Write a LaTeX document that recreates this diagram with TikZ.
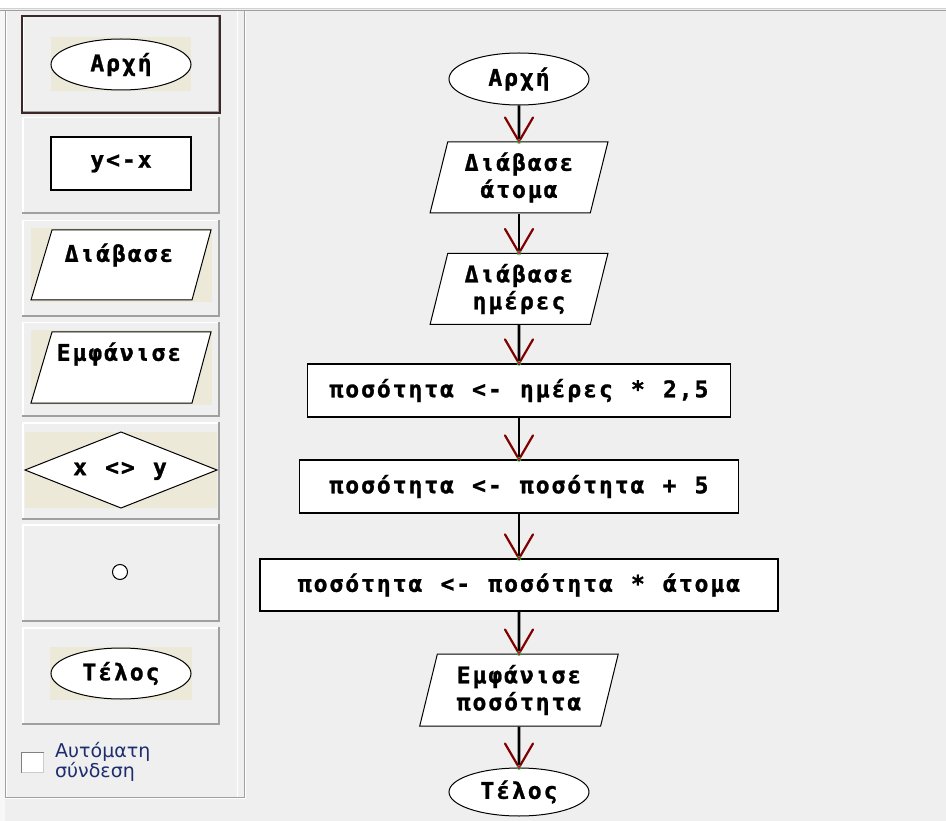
\documentclass[tikz,border=0pt]{standalone}
\usepackage{fontspec}
\usetikzlibrary{shapes.geometric,calc}
\newfontfamily\flowfont[LetterSpace=8.5,WordSpace=1.15,FakeBold=1.2]{DejaVu Sans Mono Bold}
\newfontfamily\uifont{DejaVu Sans}
\definecolor{winbg}{RGB}{239,239,239}
\definecolor{beige}{RGB}{236,233,216}
\definecolor{btnshadow}{RGB}{160,160,160}
\definecolor{selframe}{RGB}{58,40,40}
\definecolor{headred}{RGB}{128,0,0}
\definecolor{uitext}{RGB}{30,45,110}
\definecolor{tipgreen}{RGB}{40,200,40}

% one palette button: top and bottom edge
\newcommand\palettebutton[2]{%
  \fill[winbg] (22,#1) rectangle (220,#2);
  \draw[white, line width=1.5pt] (22.75,#2) -- (22.75,#1+0.75) -- (220,#1+0.75);
  \draw[btnshadow, line width=2pt] (22,#2-1) -- (219,#2-1) -- (219,#1);
}
% connector with the open V head at the target
\newcommand\flowlink[2]{%
  \draw[flow] (#1.south) -- (#2.north);
  \draw[vhead] ($(#2.north)+(-14,-24)$) -- (#2.north) -- ($(#2.north)+(14,-24)$);
  \fill[magenta] (#2.north) circle (1.3);
  \draw[tipgreen, line width=0.6pt] (#2.north) circle (2);
}

\begin{document}
\begin{tikzpicture}[x=1pt,y=-1pt,
  every node/.style={font=\flowfont\fontsize{23}{27}\selectfont, inner sep=0pt},
  term/.style={ellipse, draw, fill=white, line width=1pt, minimum width=140, minimum height=52},
  proc/.style={rectangle, draw, fill=white, line width=1.2pt, minimum height=53},
  io/.style={trapezium, trapezium left angle=75, trapezium right angle=105,
    trapezium stretches=true, draw, fill=white, line width=1pt,
    minimum width=178, minimum height=71, align=center},
  flow/.style={line width=2.6pt},
  vhead/.style={headred, line width=2.2pt, line join=round, line cap=round},
]
\useasboundingbox (0,0) rectangle (946,821);

% window background
\fill[winbg] (0,0) rectangle (946,821);
\fill[white] (0,0) rectangle (946,8);
\draw[black!18] (0,8.5) -- (946,8.5);
\draw[btnshadow, line width=1.5pt] (0,10.5) -- (946,10.5);
\fill[black!3] (0,11) rectangle (5,821);

% palette frame
\draw[btnshadow] (5.5,11) -- (5.5,797.5) -- (244.5,797.5) -- (244.5,11);
\draw[white] (6.5,11) -- (6.5,796.5);
\draw[white] (5,798.5) -- (245.5,798.5) -- (245.5,11);
\draw[white] (237.5,11) -- (237.5,797);

% palette buttons
\palettebutton{16}{113}
\palettebutton{117}{214}
\palettebutton{220}{317}
\palettebutton{322}{417}
\palettebutton{422}{520}
\palettebutton{524}{622}
\palettebutton{627}{725}
\draw[selframe, line width=2pt] (22,16) rectangle (220,113);

% start symbol
\fill[beige] (51,37) rectangle (191,91);
\node[term, minimum height=51] (pstart) at (121,64.5) {Αρχή};
% assignment symbol
\node[proc, minimum width=140] (passign) at (121,163.5) {y<-x};
% input symbol
\fill[beige] (31,228) rectangle (212,302);
\draw[fill=white, line width=1pt] (52,230) -- (211,230) -- (192,300) -- (31,300) -- cycle;
\node (pread) at (119,255) {Διάβασε};
% output symbol
\fill[beige] (31,330) rectangle (212,405);
\draw[fill=white, line width=1pt] (52,332) -- (211,332) -- (192,403) -- (31,403) -- cycle;
\node (pshow) at (119,354) {Εμφάνισε};
% decision symbol
\fill[beige] (25,432) rectangle (217,508);
\draw[fill=white, line width=1pt] (25,470) -- (121,432) -- (217,470) -- (121,508) -- cycle;
\node (pcond) at (120,471) {x <> y};
% junction symbol
\draw[fill=white, line width=1pt] (120,572) circle (7.5);
% end symbol
\fill[beige] (50,647) rectangle (192,700);
\node[term, minimum height=51] (pstop) at (121,673.5) {Τέλος};

% auto-connect check box
\fill[white] (21,752) rectangle (44,773);
\draw[black!50, line width=1pt] (21.5,773) -- (21.5,752.5) -- (44,752.5);
\draw[black!20, line width=1pt] (21.5,772.5) -- (43.5,772.5) -- (43.5,752.5);
\node[font=\uifont\fontsize{19}{20}\selectfont, text=uitext, align=left, anchor=north west]
  (autolabel) at (55,742) {Αυτόματη\\σύνδεση};

% flowchart
\node[term] (start) at (519,79) {Αρχή};
\node[io] (readp) at (519,177.5) {Διάβασε\\άτομα};
\node[io] (readd) at (519,289) {Διάβασε\\ημέρες};
\node[proc, minimum width=423] (calc1) at (519,390.5) {ποσότητα <- ημέρες * 2,5};
\node[proc, minimum width=439] (calc2) at (519,486.5) {ποσότητα <- ποσότητα + 5};
\node[proc, minimum width=518, minimum height=52] (calc3) at (519,585) {ποσότητα <- ποσότητα * άτομα};
\node[io, minimum width=199, minimum height=72] (show) at (519,690) {Εμφάνισε\\ποσότητα};
\node[term, minimum height=48] (stop) at (519,792) {Τέλος};

\flowlink{start}{readp}
\flowlink{readp}{readd}
\flowlink{readd}{calc1}
\flowlink{calc1}{calc2}
\flowlink{calc2}{calc3}
\flowlink{calc3}{show}
\flowlink{show}{stop}
\end{tikzpicture}
\end{document}
